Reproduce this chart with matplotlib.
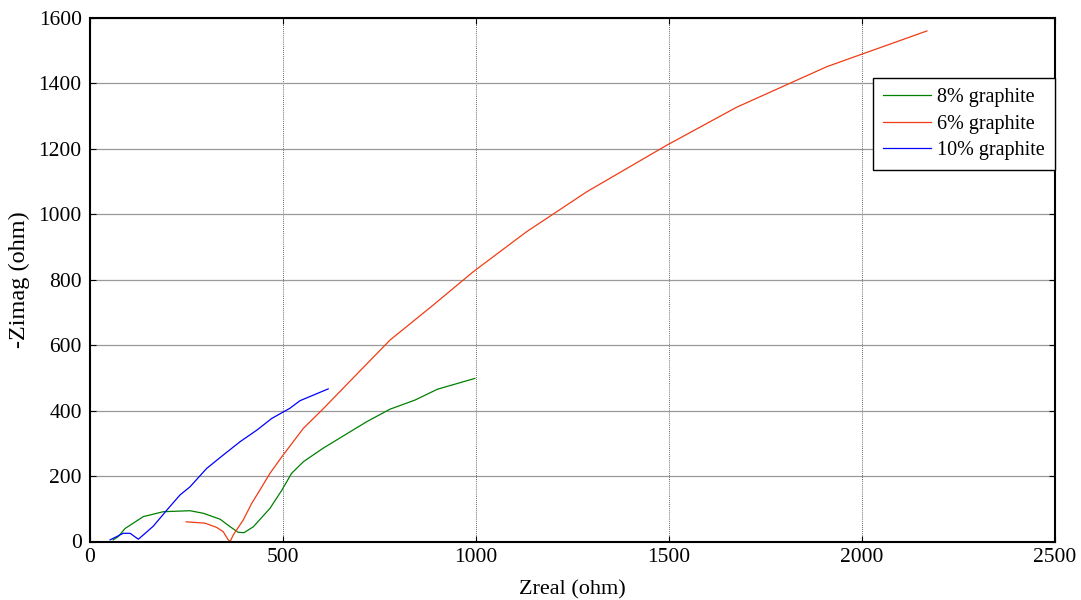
import matplotlib
matplotlib.use('Agg')
import matplotlib.pyplot as plt

# 8% graphite
g8_x = [60, 73, 91, 138, 190, 259, 294, 337, 363, 384, 399, 423, 466, 497, 522, 553, 604, 717, 777, 842, 900, 997]
g8_y = [5, 15, 40, 76, 91, 94, 86, 68, 45, 28, 27, 45, 101, 157, 208, 244, 285, 366, 404, 432, 465, 498]

# 6% graphite
g6_x = [249, 298, 328, 345, 358, 363, 371, 397, 419, 440, 466, 497, 553, 603, 626, 777, 889, 993,
        1131, 1287, 1494, 1675, 1909, 2168]
g6_y = [60, 56, 43, 30, 5, 0, 20, 66, 117, 157, 208, 259, 346, 404, 432, 615, 722, 824,
        946, 1068, 1210, 1326, 1450, 1559]

# 10% graphite
g10_x = [52, 86, 104, 125, 138, 164, 199, 233, 259, 302, 345, 389, 432, 471, 518, 544, 617]
g10_y = [5, 25, 25, 7, 20, 47, 96, 142, 167, 223, 264, 305, 340, 376, 407, 430, 466]

plt.rcParams['font.family'] = ['Liberation Serif', 'DejaVu Serif']

fig = plt.figure(figsize=(10.81, 6), dpi=100)
ax = fig.add_axes([0.0833, 0.0975, 0.8927, 0.8733])

ax.plot(g8_x, g8_y, color='#008000', lw=0.9, label='8% graphite')
ax.plot(g6_x, g6_y, color='#f03c14', lw=0.9, label='6% graphite')
ax.plot(g10_x, g10_y, color='#0000ff', lw=0.9, label='10% graphite')

ax.set_xlim(0, 2500)
ax.set_ylim(0, 1600)
ax.set_xticks(range(0, 2501, 500))
ax.set_yticks(range(0, 1601, 200))

ax.xaxis.grid(True, color='#333333', linestyle=(0, (1, 1.5)), linewidth=0.6)
ax.yaxis.grid(True, color='#999999', linestyle='-', linewidth=0.9)

ax.tick_params(direction='in', top=True, right=True, length=4, labelsize=15.5)
ax.tick_params(axis='y', pad=6)
ax.tick_params(axis='x', pad=5)
for s in ax.spines.values():
    s.set_linewidth(1.5)

ax.set_xlabel('Zreal (ohm)', fontsize=16, labelpad=9)
ax.set_ylabel('-Zimag (ohm)', fontsize=17.5, labelpad=6)

leg = ax.legend(loc='upper right', bbox_to_anchor=(1.0, 0.884), borderaxespad=0,
                fontsize=14.5, fancybox=False, framealpha=1, edgecolor='black',
                handlelength=2.4, handletextpad=0.3, labelspacing=0.35,
                borderpad=0.5)
leg.get_frame().set_linewidth(1.0)

fig.savefig('out.png', dpi=100)
